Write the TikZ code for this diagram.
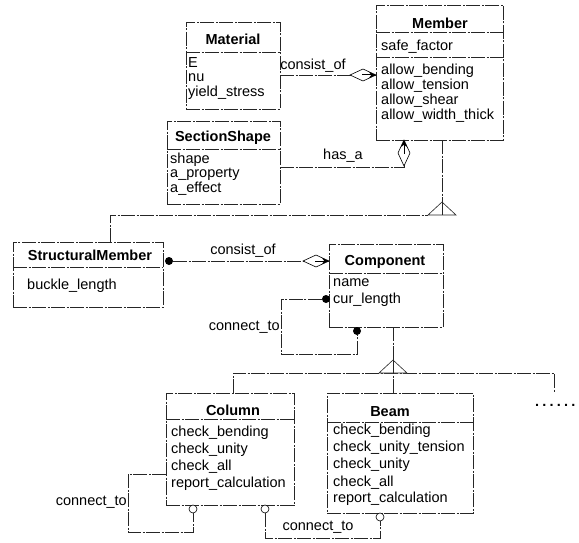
\documentclass[tikz,border=0pt]{standalone}
\usepackage{fontspec}
\setmainfont{Liberation Sans}
\usetikzlibrary{arrows.meta,calc}
\begin{document}
\begin{tikzpicture}[x=1pt,y=-1pt,
  lin/.style={line width=0.6pt, draw=black!85, dash pattern=on 14pt off 1.5pt on 2pt off 1.5pt},
  box/.style={lin, rectangle, inner sep=0pt, outer sep=0pt, anchor=north west},
  conn/.style={lin},
  sepl/.style={lin},
  ttl/.style={font=\fontsize{14.5}{15}\selectfont\bfseries, inner sep=0pt},
  attr/.style={font=\fontsize{14.5}{15}\selectfont, anchor=base west, inner sep=0pt},
  lbl/.style={font=\fontsize{14.5}{15}\selectfont, inner sep=0pt},
  diam/.style={line width=0.6pt, draw=black, fill=white},
  tip/.style={line width=1pt, -{Stealth[length=7pt,width=6pt]}},
  fdot/.style={circle, fill=black, inner sep=0pt, minimum size=8pt},
  odot/.style={circle, draw=black, fill=white, line width=0.6pt, inner sep=0pt, minimum size=8pt},
  tri/.style={line width=0.6pt, draw=black!85, fill=white}
]
\useasboundingbox (0,0) rectangle (579,543);

% ---------- Material ----------
\node[box, minimum width=94pt, minimum height=87pt] (mat) at (186,22) {};
\draw[sepl] (mat.west |- 0,52) -- (mat.east |- 0,52);
\node[ttl] (matT) at (233,39) {Material};
\node[attr] (mat1) at (188,67.5) {E};
\node[attr] (mat2) at (188,81.5) {nu};
\node[attr] (mat3) at (188,96.5) {yield\_stress};

% ---------- Member ----------
\node[box, minimum width=127pt, minimum height=135pt] (mem) at (376,5) {};
\draw[sepl] (mem.west |- 0,32) -- (mem.east |- 0,32);
\draw[sepl] (mem.west |- 0,57) -- (mem.east |- 0,57);
\node[ttl] (memT) at (440,23) {Member};
\node[attr] (mem0) at (381,50.5) {safe\_factor};
\node[attr] (mem1) at (381,74.5) {allow\_bending};
\node[attr] (mem2) at (381,89.5) {allow\_tension};
\node[attr] (mem3) at (381,104.5) {allow\_shear};
\node[attr] (mem4) at (381,119.5) {allow\_width\_thick};

% ---------- SectionShape ----------
\node[box, minimum width=113pt, minimum height=83pt] (ss) at (167,121) {};
\draw[sepl] (ss.west |- 0,149) -- (ss.east |- 0,149);
\node[ttl] (ssT) at (223,138) {SectionShape};
\node[attr] (ss1) at (170,163.5) {shape};
\node[attr] (ss2) at (170,177.5) {a\_property};
\node[attr] (ss3) at (170,192.5) {a\_effect};

% ---------- StructuralMember ----------
\node[box, minimum width=150pt, minimum height=65pt] (sm) at (13,242) {};
\draw[sepl] (sm.west |- 0,267) -- (sm.east |- 0,267);
\node[ttl] (smT) at (90,255) {StructuralMember};
\node[attr] (sm1) at (27,289.5) {buckle\_length};

% ---------- Component ----------
\node[box, minimum width=114pt, minimum height=83pt] (comp) at (329,244) {};
\draw[sepl] (comp.west |- 0,273) -- (comp.east |- 0,273);
\node[ttl] (compT) at (385,262) {Component};
\node[attr] (comp1) at (333,286.5) {name};
\node[attr] (comp2) at (333,303.5) {cur\_length};

% ---------- Column ----------
\node[box, minimum width=128pt, minimum height=112pt] (col) at (166,393) {};
\draw[sepl] (col.west |- 0,419) -- (col.east |- 0,419);
\node[ttl] (colT) at (233,410) {Column};
\node[attr] (col1) at (171,436.5) {check\_bending};
\node[attr] (col2) at (171,453.5) {check\_unity};
\node[attr] (col3) at (171,470.5) {check\_all};
\node[attr] (col4) at (171,487.5) {report\_calculation};

% ---------- Beam ----------
\node[box, minimum width=146pt, minimum height=120pt] (beam) at (327,393) {};
\draw[sepl] (beam.west |- 0,422) -- (beam.east |- 0,422);
\node[ttl] (beamT) at (390,412) {Beam};
\node[attr] (beam1) at (333,434.5) {check\_bending};
\node[attr] (beam2) at (333,451.5) {check\_unity\_tension};
\node[attr] (beam3) at (333,468.5) {check\_unity};
\node[attr] (beam4) at (333,486.5) {check\_all};
\node[attr] (beam5) at (333,502.5) {report\_calculation};

% ---------- Material -- Member : consist_of ----------
\coordinate (c1e) at (mem.west |- 0,75);
\draw[conn] (mat.east |- c1e) -- (c1e);
\draw[diam] (c1e) -- ++(-13,-6) -- ++(-13,6) -- ++(13,6) -- cycle;
\draw[tip] ($(c1e)+(-14,0)$) -- (c1e);
\node[lbl] (l1) at (313,66) {consist\_of};

% ---------- SectionShape -- Member : has_a ----------
\coordinate (h1) at (404,167);
\coordinate (h2) at (mem.south -| h1);
\draw[conn] (ss.east |- h1) -- (h1) -- (h2);
\draw[diam] (h2) -- ++(-6,13) -- ++(6,13) -- ++(6,-13) -- cycle;
\draw[tip] ($(h2)+(0,14)$) -- (h2);
\node[lbl] (l2) at (343,156) {has\_a};

% ---------- Member <|-- StructuralMember ----------
\coordinate (a1) at (442,202);
\coordinate (b1) at (110,215);
\draw[conn] (mem.south -| a1) -- (a1);
\draw[conn] (sm.north -| b1) -- (b1) -- ($(a1)+(-14,13)$);
\draw[tri] (a1) -- ++(-14,13) -- ++(28,0) -- cycle;
\draw[conn] (a1) -- ($(a1)+(0,13)$);

% ---------- StructuralMember -- Component : consist_of ----------
\node[fdot] (d1) at (169,261) {};
\coordinate (c2e) at (comp.west |- 0,261);
\draw[conn] (d1) -- (c2e);
\draw[diam] (c2e) -- ++(-13,-6) -- ++(-13,6) -- ++(13,6) -- cycle;
\draw[tip] ($(c2e)+(-14,0)$) -- (c2e);
\node[lbl] (l3) at (243,251) {consist\_of};

% ---------- Component self : connect_to ----------
\node[fdot] (d2) at (326,299) {};
\node[fdot] (d3) at (357,331) {};
\coordinate (k1) at (281,299);
\coordinate (k2) at (281,354);
\coordinate (k3) at (357,354);
\draw[conn] (d2) -- (k1) -- (k2) -- (k3) -- (d3);
\node[lbl, anchor=east] (l4) at (280,327) {connect\_to};

% ---------- Component <|-- Column, Beam, ... ----------
\coordinate (a2) at (393,360);
\coordinate (b2) at (233,373);
\coordinate (b3) at (554,373);
\coordinate (b4) at (554,392);
\draw[conn] (comp.south -| a2) -- (a2);
\draw[conn] (col.north -| b2) -- (b2) -- (b3) -- (b4);
\draw[tri] (a2) -- ++(-14,13) -- ++(28,0) -- cycle;
\draw[conn] (a2) -- (beam.north -| a2);
\node[lbl, anchor=base west, font=\fontsize{14.5}{15}\selectfont\bfseries] (dots) at (535,406.5) {.\kern3.2pt.\kern3.2pt.\kern3.2pt.\kern3.2pt.\kern3.2pt.};

% ---------- Column self : connect_to ----------
\node[odot] (o1) at (193,509) {};
\coordinate (m1) at (128,474);
\coordinate (m2) at (128,532);
\coordinate (m3) at (193,532);
\draw[conn] (col.west |- m1) -- (m1) -- (m2) -- (m3) -- (o1);
\node[lbl, anchor=east] (l5) at (127,502) {connect\_to};

% ---------- Column -- Beam : connect_to ----------
\node[odot] (o2) at (265,509) {};
\node[odot] (o3) at (380,517) {};
\coordinate (n1) at (265,538);
\coordinate (n2) at (380,538);
\draw[conn] (o2) -- (n1) -- (n2) -- (o3);
\node[lbl] (l6) at (318,527) {connect\_to};
\end{tikzpicture}
\end{document}
